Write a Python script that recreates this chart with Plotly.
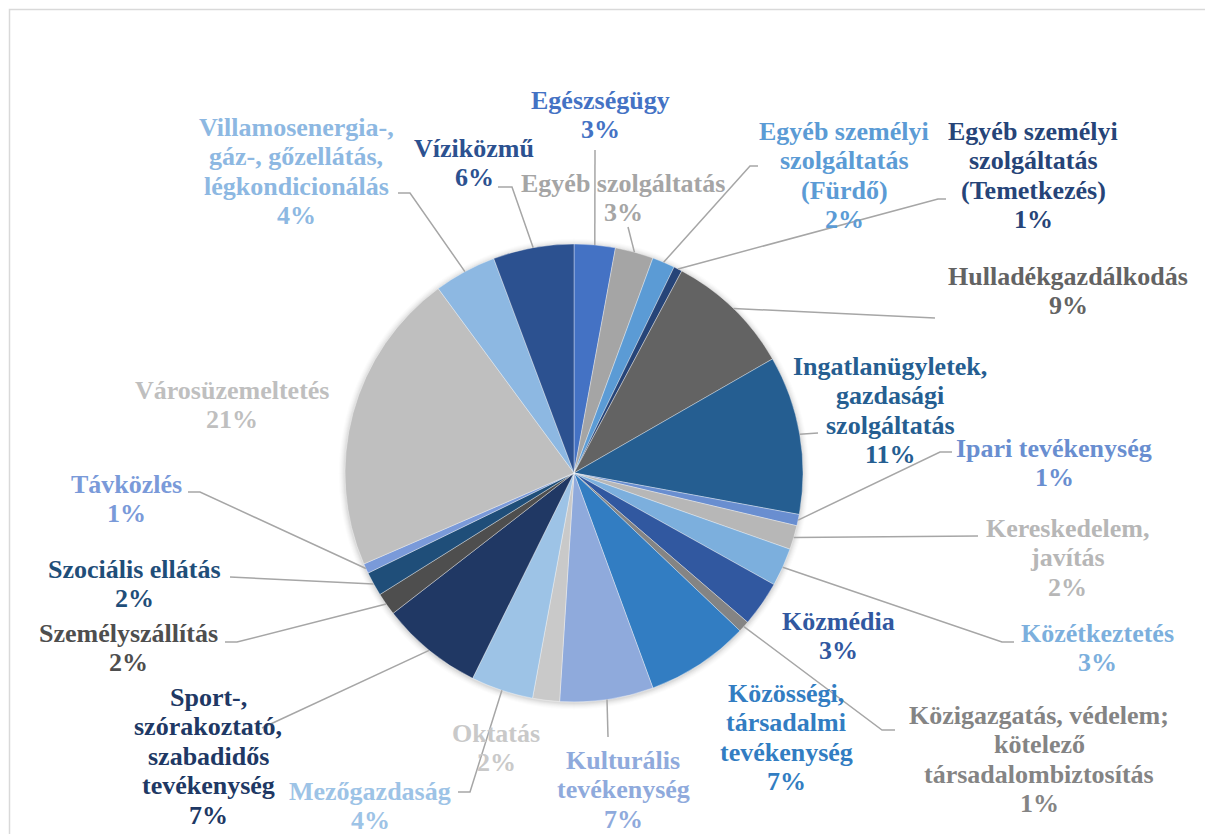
import math
import plotly.graph_objects as go

# ---------------- data ----------------
categories = [
    "Egészségügy",
    "Egyéb szolgáltatás",
    "Egyéb személyi<br>szolgáltatás<br>(Fürdő)",
    "Egyéb személyi<br>szolgáltatás<br>(Temetkezés)",
    "Hulladékgazdálkodás",
    "Ingatlanügyletek,<br>gazdasági<br>szolgáltatás",
    "Ipari tevékenység",
    "Kereskedelem,<br>javítás",
    "Közétkeztetés",
    "Közmédia",
    "Közigazgatás, védelem;<br>kötelező<br>társadalombiztosítás",
    "Közösségi,<br>társadalmi<br>tevékenység",
    "Kulturális<br>tevékenység",
    "Oktatás",
    "Mezőgazdaság",
    "Sport-,<br>szórakoztató,<br>szabadidős<br>tevékenység",
    "Személyszállítás",
    "Szociális ellátás",
    "Távközlés",
    "Városüzemeltetés",
    "Villamosenergia-,<br>gáz-, gőzellátás,<br>légkondicionálás",
    "Víziközmű",
]
values = [2.9, 2.7, 1.6, 0.6, 8.9, 11.2, 0.8, 1.7, 2.7, 3.2, 0.8,
          7.3, 6.6, 1.9, 4.4, 7.2, 1.6, 1.7, 0.7, 21.4, 4.4, 5.7]
colors = ["#4472C4", "#A5A5A5", "#5B9BD5", "#264478", "#636363", "#255E91",
          "#698ED0", "#B7B7B7", "#7CAFDD", "#3158A0", "#848484", "#327DC2",
          "#8FAADC", "#C9C9C9", "#9DC3E6", "#203864", "#4E4E4E", "#1F4E79",
          "#7A9AD9", "#BFBFBF", "#8DB8E2", "#2C5190"]

# ---------------- layout (pixels) ----------------
W, H = 1205, 834
CX, CY, R = 574, 473, 229
LINE_H = 29.5
# label anchor: (x centre, y of first line)
label_pos = [(600, 100), (623, 183), (844, 131), (1033, 131), (1068, 276),
             (890, 366), (1054, 448), (1067, 528), (1097, 633), (838, 621),
             (1039, 715), (786, 693), (623, 760), (496, 733), (370, 791),
             (208, 697), (128, 633), (134, 569), (126, 484), (232, 390),
             (296, 127), (474, 148)]
# leader line points after the slice edge point (elbow, end) or None
leaders = [[(595, 150)], [(628, 227)], [(750, 166), (758, 166)],
           [(938, 199), (946, 199)], [(935, 318)], [(818, 433)],
           [(940, 452), (952, 452)], [(978, 536)], [(1002, 642), (1014, 642)],
           None, [(882, 730), (895, 730)], None, [(608, 737)], None,
           [(470, 792), (458, 792)], [(262, 728)], [(237, 642), (225, 642)],
           [(230, 577)], [(200, 492), (188, 492)], None,
           [(410, 193), (398, 193)], [(512, 187), (498, 187)]]

FONT = "Times New Roman, DejaVu Serif, serif"

fig = go.Figure()
fig.add_trace(go.Pie(
    labels=[c.replace("<br>", " ") for c in categories],
    values=values,
    marker=dict(colors=colors, line=dict(color="rgba(255,255,255,0.6)", width=0.6)),
    sort=False, direction="clockwise", rotation=0,
    textinfo="none", showlegend=False,
    domain=dict(x=[(CX - R) / W, (CX + R) / W], y=[1 - (CY + R) / H, 1 - (CY - R) / H]),
))

total = sum(values)
shapes = []
annotations = []

# frame
shapes.append(dict(type="rect", xref="x", yref="y", x0=9.5, y0=9.5, x1=W + 20, y1=H + 20,
                   line=dict(color="#D9D9D9", width=1.5), fillcolor="rgba(0,0,0,0)", layer="below"))
# soft shadow behind the pie
for k in range(7, 0, -1):
    shapes.append(dict(type="circle", xref="x", yref="y", x0=CX - R - k, x1=CX + R + k,
                       y0=CY - R - k + 1, y1=CY + R + k + 1, line=dict(width=0),
                       fillcolor="rgba(0,0,0,%.3f)" % (0.035 * (8 - k) / 7), layer="below"))

cum = 0.0
for i, (cat, v) in enumerate(zip(categories, values)):
    mid = (cum + v / 2) / total * 2 * math.pi
    cum += v
    ex = CX + R * math.sin(mid)
    ey = CY - R * math.cos(mid)
    pct = "%d%%" % int(v / total * 100 + 0.5)
    lines = cat.split("<br>") + [pct]
    lx, ly = label_pos[i]
    for k, t in enumerate(lines):
        annotations.append(dict(
            x=lx, y=ly + k * LINE_H, xref="x", yref="y", text="<b>%s</b>" % t, showarrow=False,
            xanchor="center", yanchor="middle",
            font=dict(family=FONT, size=26, color=colors[i])))
    if leaders[i]:
        pts = [(ex, ey)] + leaders[i]
        path = "M %.1f %.1f " % pts[0] + " ".join("L %.1f %.1f" % p for p in pts[1:])
        shapes.append(dict(type="path", xref="x", yref="y", path=path,
                           line=dict(color="#A6A6A6", width=1.5), layer="above"))

fig.update_layout(
    width=W, height=H,
    margin=dict(l=0, r=0, t=0, b=0),
    paper_bgcolor="white", plot_bgcolor="rgba(0,0,0,0)",
    font=dict(family=FONT),
    xaxis=dict(range=[0, W], visible=False, fixedrange=True, domain=[0, 1]),
    yaxis=dict(range=[H, 0], visible=False, fixedrange=True, domain=[0, 1]),
    shapes=shapes, annotations=annotations,
)

fig.write_html("out.html", post_script="document.body.style.margin='0px';",
               config={"displayModeBar": False})
